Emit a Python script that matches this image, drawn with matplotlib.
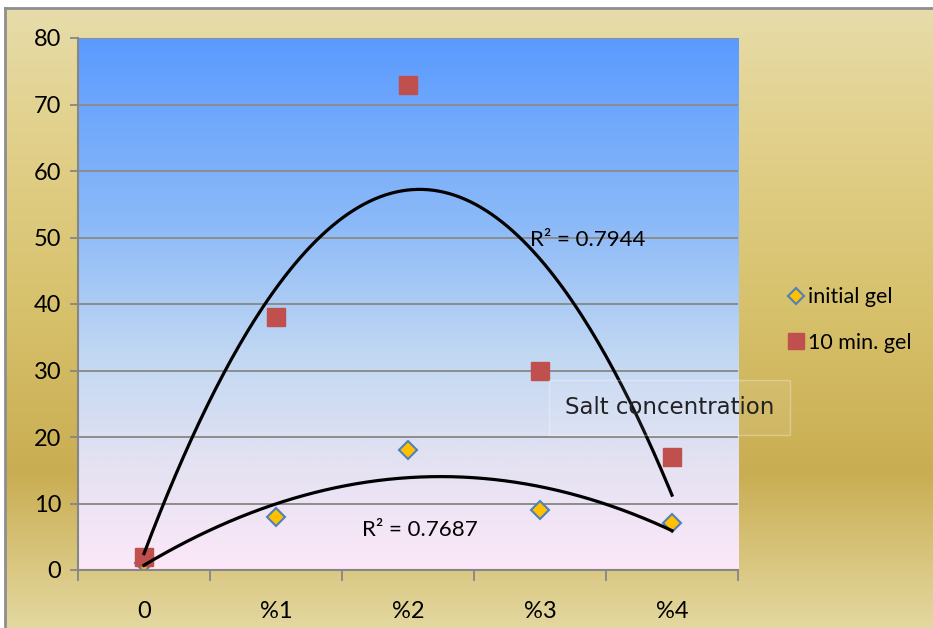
import numpy as np
import matplotlib
matplotlib.use("Agg")
import matplotlib.pyplot as plt
from matplotlib.colors import LinearSegmentedColormap

# data
categories = ["0", "%1", "%2", "%3", "%4"]
initial_gel = [1, 8, 18, 9, 7]
ten_min_gel = [2, 38, 73, 30, 17]
r2_initial = "R² = 0.7687"
r2_ten = "R² = 0.7944"
note = "Salt concentration"

W, H = 933, 628
fig = plt.figure(figsize=(W / 100, H / 100), dpi=100)
fig.patch.set_facecolor("white")

# outer gold background
bg = fig.add_axes([5 / W, 0, 1 - 5 / W, 1 - 8 / H])
gold = LinearSegmentedColormap.from_list(
    "gold", [(0, "#e4d8a0"), (0.25, "#c9ad52"), (0.5, "#d6c06a"),
             (0.8, "#e2d18c"), (1, "#e7dcaa")])
bg.imshow(np.linspace(0, 1, 256).reshape(-1, 1), aspect="auto", cmap=gold,
          origin="lower", extent=[0, 1, 0, 1])
bg.set_xlim(0, 1)
bg.set_ylim(0, 1)
bg.axis("off")
bg.plot([0, 1], [1, 1], color="#8e8e8e", lw=2, clip_on=False)
bg.plot([0, 0], [0, 1], color="#8e8e8e", lw=2, clip_on=False)

# plot area
x0, x1, y0, y1 = 78, 738, 38, 570
ax = fig.add_axes([x0 / W, (H - y1) / H, (x1 - x0) / W, (y1 - y0) / H])
ax.set_facecolor("none")
idx = np.arange(len(categories))
ax.set_xlim(-0.5, len(categories) - 0.5)
ax.set_ylim(0, 80)

sky = LinearSegmentedColormap.from_list(
    "sky", [(0, "#fce8f8"), (0.2, "#e4e2f2"), (0.4, "#c2d8f2"),
            (0.65, "#8cbaf8"), (1, "#5b9bff")])
ax.imshow(np.linspace(0, 1, 256).reshape(-1, 1), aspect="auto", cmap=sky,
          origin="lower", extent=[-0.5, 4.5, 0, 80], zorder=0)

for v in range(10, 90, 10):
    ax.axhline(v, color="#8c8c8c", lw=1.4, zorder=1)

# polynomial trendlines (order 2)
xs = np.linspace(0, 4, 200)
for ys in (initial_gel, ten_min_gel):
    c = np.polyfit(idx, ys, 2)
    ax.plot(xs, np.polyval(c, xs), color="black", lw=2.3, zorder=4)

ax.plot(idx, initial_gel, ls="none", marker="D", ms=9.5, mfc="#ffc000",
        mec="#4f81bd", mew=1.5, zorder=2, label="initial gel")
ax.plot(idx, ten_min_gel, ls="none", marker="s", ms=13.5, mfc="#c0504d",
        mec="#c0504d", zorder=3, label="10 min. gel")

ax.text(3.36, 49.6, r2_ten, fontsize=16, family="Lato", ha="center",
        va="center", zorder=5)
ax.text(2.09, 6.0, r2_initial, fontsize=16, family="Lato", ha="center",
        va="center", zorder=5)
ax.text(3.19, 24.4, note, fontsize=16.5, family="DejaVu Sans", ha="left",
        va="center", color="#222222", zorder=5, clip_on=False,
        bbox=dict(boxstyle="square,pad=0.7", fc=(1, 1, 1, 0.08),
                  ec=(1, 1, 1, 0.3), lw=1))

# axes styling
for s in ("top", "right"):
    ax.spines[s].set_visible(False)
for s in ("left", "bottom"):
    ax.spines[s].set_color("#868686")
    ax.spines[s].set_linewidth(1.5)
ax.set_yticks(range(0, 90, 10))
ax.tick_params(axis="y", length=6, width=1.3, color="#868686", pad=6,
               labelsize=17)
ax.set_xticks(idx)
ax.set_xticklabels(categories)
ax.set_xticks(np.arange(-0.5, 5, 1), minor=True)
ax.tick_params(axis="x", which="major", length=0, pad=22, labelsize=17)
ax.tick_params(axis="x", which="minor", length=8, width=1.3,
               color="#868686")
for lab in ax.get_xticklabels() + ax.get_yticklabels():
    lab.set_family("Lato")

leg = fig.legend(loc="center left", bbox_to_anchor=(766 / W, 1 - 320 / H),
                 frameon=False, labelspacing=1.2,
                 handletextpad=0.05, handlelength=1.0, markerscale=0.85,
                 prop={"family": "Lato", "size": 15.5})

fig.savefig("out.png", dpi=100)
